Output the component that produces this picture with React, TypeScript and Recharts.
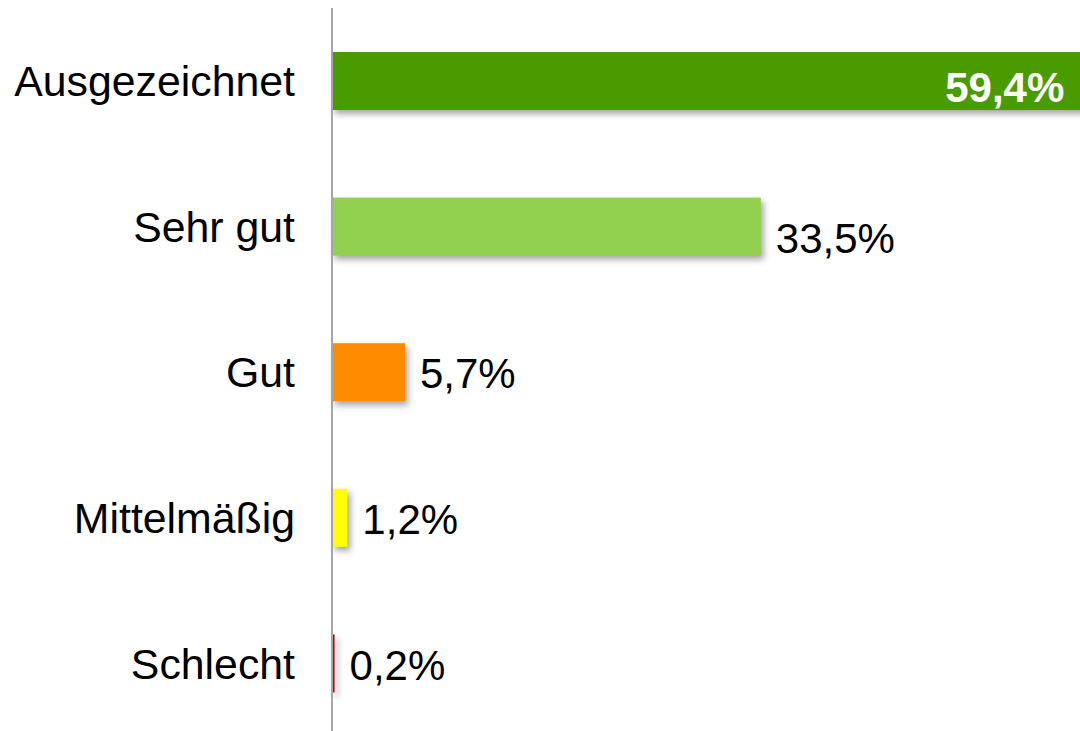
import { BarChart, Bar, XAxis, YAxis, Cell, LabelList } from 'recharts';

const categories = ['Ausgezeichnet', 'Sehr gut', 'Gut', 'Mittelmäßig', 'Schlecht'];
const shares = [59.4, 33.5, 5.7, 1.2, 0.2];
const colors = ['#4A9B00', '#92D050', '#FF8C00', '#FFFF00', '#C00000'];

const data = categories.map((name, i) => ({ name, value: shares[i] }));

const FONT = '"Liberation Sans", Arial, sans-serif';

const fmt = (v: number) => `${v.toFixed(1).replace('.', ',')}%`;

function CategoryTick(props: any) {
  const { x, y, payload } = props;
  return (
    <text x={x} y={y} dy="0.36em" textAnchor="end" fontFamily={FONT} fontSize={42.8} fill="#000">
      {payload.value}
    </text>
  );
}

function ShadowBar(props: any) {
  const { x, y, width, height, fill } = props;
  return (
    <rect
      x={x}
      y={y}
      width={Math.max(width, 0)}
      height={height}
      fill={fill}
      style={{ filter: 'drop-shadow(3px 4px 3px rgba(0,0,0,0.35))' }}
    />
  );
}

function ValueLabel(props: any) {
  const { x, y, width, height, value, index } = props;
  const cy = y + height / 2;
  if (index === 0) {
    return (
      <text x={x + width - 28} y={cy + 6} dy="0.36em" textAnchor="end" fontFamily={FONT} fontSize={42} fontWeight="bold" fill="#fff">
        {fmt(value)}
      </text>
    );
  }
  const shift = index === 1 ? 11 : 1;
  return (
    <text x={x + width + 15} y={cy + shift} dy="0.36em" textAnchor="start" fontFamily={FONT} fontSize={42} fill="#000">
      {fmt(value)}
    </text>
  );
}

export default function App() {
  return (
    <div style={{ position: 'absolute', left: 0, top: 0, width: 1080, height: 731, overflow: 'hidden', background: '#fff' }}>
      <BarChart
        width={1100}
        height={736}
        data={data}
        layout="vertical"
        margin={{ top: 8, right: 0, left: 0, bottom: 0 }}
        barCategoryGap={0}
      >
        <XAxis type="number" domain={[0, 60]} hide />
        <YAxis
          type="category"
          dataKey="name"
          width={332}
          axisLine={{ stroke: '#A6A6A6', strokeWidth: 2 }}
          tickLine={false}
          tickSize={0}
          tickMargin={37}
          tick={<CategoryTick />}
          interval={0}
        />
        <Bar dataKey="value" barSize={58} isAnimationActive={false} shape={<ShadowBar />}>
          {data.map((d, i) => (
            <Cell key={d.name} fill={colors[i]} />
          ))}
          <LabelList dataKey="value" content={<ValueLabel />} />
        </Bar>
      </BarChart>
    </div>
  );
}
